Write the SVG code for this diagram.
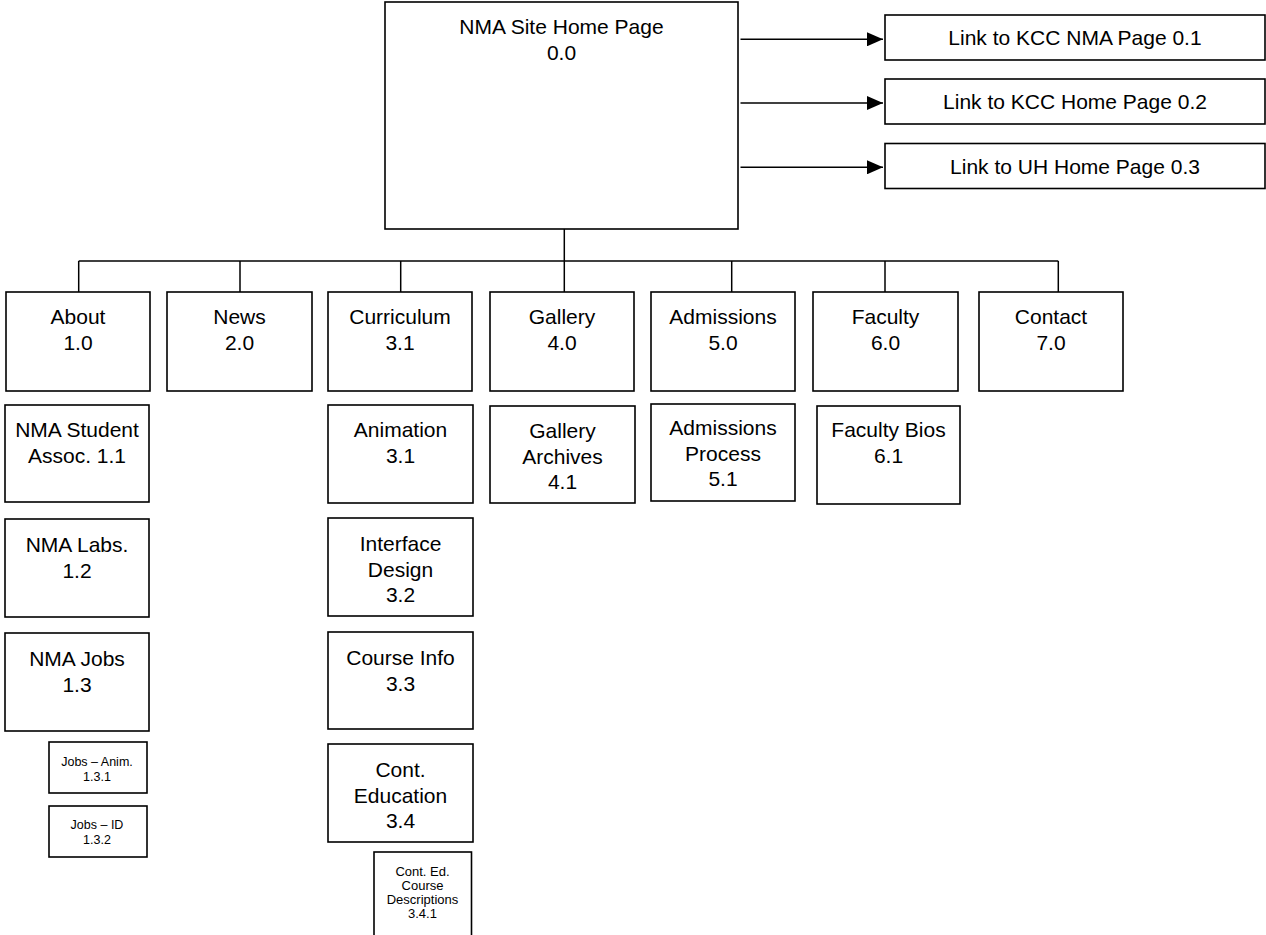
<svg xmlns="http://www.w3.org/2000/svg" width="1266" height="935" viewBox="0 0 1266 935">
<style>
  .box { fill: #fff; stroke: #000; stroke-width: 1.6; }
  .ln { fill: none; stroke: #000; stroke-width: 1.5; }
  text { font-family: "Liberation Sans", Arial, Helvetica, sans-serif; fill: #000; text-anchor: middle; }
  .t { font-size: 21px; }
  .s { font-size: 12.5px; }
  .xs { font-size: 13px; }
</style>
<defs>
  <marker id="arr" markerUnits="userSpaceOnUse" markerWidth="16" markerHeight="14" refX="16" refY="7" orient="auto">
    <path d="M0,0 L16,7 L0,14 Z" fill="#000"/>
  </marker>
</defs>
<rect width="1266" height="935" fill="#fff"/>

<g id="connectors">
  <line class="ln" x1="564.3" y1="229" x2="564.3" y2="292"/>
  <line class="ln" x1="78.7" y1="261" x2="1058.3" y2="261"/>
  <line class="ln" x1="78.7" y1="261" x2="78.7" y2="292"/>
  <line class="ln" x1="240" y1="261" x2="240" y2="292"/>
  <line class="ln" x1="400.7" y1="261" x2="400.7" y2="292"/>
  <line class="ln" x1="731.7" y1="261" x2="731.7" y2="292"/>
  <line class="ln" x1="885" y1="261" x2="885" y2="292"/>
  <line class="ln" x1="1058.3" y1="261" x2="1058.3" y2="292"/>
  <line class="ln" x1="740.5" y1="39.3" x2="883" y2="39.3" marker-end="url(#arr)"/>
  <line class="ln" x1="740.5" y1="103" x2="883" y2="103" marker-end="url(#arr)"/>
  <line class="ln" x1="740.5" y1="167.3" x2="883" y2="167.3" marker-end="url(#arr)"/>
</g>

<g id="home">
  <rect class="box" x="385" y="2" width="353" height="227"/>
  <text class="t" x="561.5" y="33.5">NMA Site Home Page</text>
  <text class="t" x="561.5" y="59.5">0.0</text>
</g>
<g id="link-0-1">
  <rect class="box" x="885" y="15" width="380" height="45"/>
  <text class="t" x="1075" y="45">Link to KCC NMA Page 0.1</text>
</g>
<g id="link-0-2">
  <rect class="box" x="885" y="79" width="380" height="45"/>
  <text class="t" x="1075" y="109">Link to KCC Home Page 0.2</text>
</g>
<g id="link-0-3">
  <rect class="box" x="885" y="143.5" width="380" height="45"/>
  <text class="t" x="1075" y="173.5">Link to UH Home Page 0.3</text>
</g>

<g id="about">
  <rect class="box" x="6" y="292" width="144" height="99"/>
  <text class="t" x="78" y="324">About</text>
  <text class="t" x="78" y="350">1.0</text>
</g>
<g id="news">
  <rect class="box" x="167" y="292" width="145" height="99"/>
  <text class="t" x="239.5" y="324">News</text>
  <text class="t" x="239.5" y="350">2.0</text>
</g>
<g id="curriculum">
  <rect class="box" x="328" y="292" width="144" height="99"/>
  <text class="t" x="400" y="324">Curriculum</text>
  <text class="t" x="400" y="350">3.1</text>
</g>
<g id="gallery">
  <rect class="box" x="490" y="292" width="144" height="99"/>
  <text class="t" x="562" y="324">Gallery</text>
  <text class="t" x="562" y="350">4.0</text>
</g>
<g id="admissions">
  <rect class="box" x="651" y="292" width="144" height="99"/>
  <text class="t" x="723" y="324">Admissions</text>
  <text class="t" x="723" y="350">5.0</text>
</g>
<g id="faculty">
  <rect class="box" x="813" y="292" width="145" height="99"/>
  <text class="t" x="885.5" y="324">Faculty</text>
  <text class="t" x="885.5" y="350">6.0</text>
</g>
<g id="contact">
  <rect class="box" x="979" y="292" width="144" height="99"/>
  <text class="t" x="1051" y="324">Contact</text>
  <text class="t" x="1051" y="350">7.0</text>
</g>

<g id="student-assoc">
  <rect class="box" x="5" y="405" width="144" height="97"/>
  <text class="t" x="77" y="437">NMA Student</text>
  <text class="t" x="77" y="463">Assoc. 1.1</text>
</g>
<g id="labs">
  <rect class="box" x="5" y="519" width="144" height="98"/>
  <text class="t" x="77" y="552">NMA Labs.</text>
  <text class="t" x="77" y="578">1.2</text>
</g>
<g id="jobs">
  <rect class="box" x="5" y="633" width="144" height="98"/>
  <text class="t" x="77" y="666">NMA Jobs</text>
  <text class="t" x="77" y="692">1.3</text>
</g>
<g id="jobs-anim">
  <rect class="box" x="49" y="742" width="98" height="51"/>
  <text class="s" x="97" y="766">Jobs – Anim.</text>
  <text class="s" x="97" y="781">1.3.1</text>
</g>
<g id="jobs-id">
  <rect class="box" x="49" y="806" width="98" height="51"/>
  <text class="s" x="97" y="829">Jobs – ID</text>
  <text class="s" x="97" y="844">1.3.2</text>
</g>

<g id="animation">
  <rect class="box" x="328" y="405" width="145" height="98"/>
  <text class="t" x="400.5" y="437">Animation</text>
  <text class="t" x="400.5" y="463">3.1</text>
</g>
<g id="interface-design">
  <rect class="box" x="328" y="518" width="145" height="98"/>
  <text class="t" x="400.5" y="551">Interface</text>
  <text class="t" x="400.5" y="577">Design</text>
  <text class="t" x="400.5" y="602">3.2</text>
</g>
<g id="course-info">
  <rect class="box" x="328" y="632" width="145" height="97"/>
  <text class="t" x="400.5" y="665">Course Info</text>
  <text class="t" x="400.5" y="691">3.3</text>
</g>
<g id="cont-education">
  <rect class="box" x="328" y="744" width="145" height="98"/>
  <text class="t" x="400.5" y="777">Cont.</text>
  <text class="t" x="400.5" y="803">Education</text>
  <text class="t" x="400.5" y="828">3.4</text>
</g>
<g id="cont-ed-course">
  <rect class="box" x="374" y="852" width="97.5" height="100"/>
  <text class="xs" x="422.5" y="876">Cont. Ed.</text>
  <text class="xs" x="422.5" y="890">Course</text>
  <text class="xs" x="422.5" y="904">Descriptions</text>
  <text class="xs" x="422.5" y="918">3.4.1</text>
</g>

<g id="gallery-archives">
  <rect class="box" x="490" y="406" width="145" height="97"/>
  <text class="t" x="562.5" y="438">Gallery</text>
  <text class="t" x="562.5" y="464">Archives</text>
  <text class="t" x="562.5" y="489">4.1</text>
</g>
<g id="admissions-process">
  <rect class="box" x="651" y="404" width="144" height="97"/>
  <text class="t" x="723" y="435">Admissions</text>
  <text class="t" x="723" y="461">Process</text>
  <text class="t" x="723" y="486">5.1</text>
</g>
<g id="faculty-bios">
  <rect class="box" x="817" y="406" width="143" height="98"/>
  <text class="t" x="888.5" y="437">Faculty Bios</text>
  <text class="t" x="888.5" y="463">6.1</text>
</g>
</svg>
